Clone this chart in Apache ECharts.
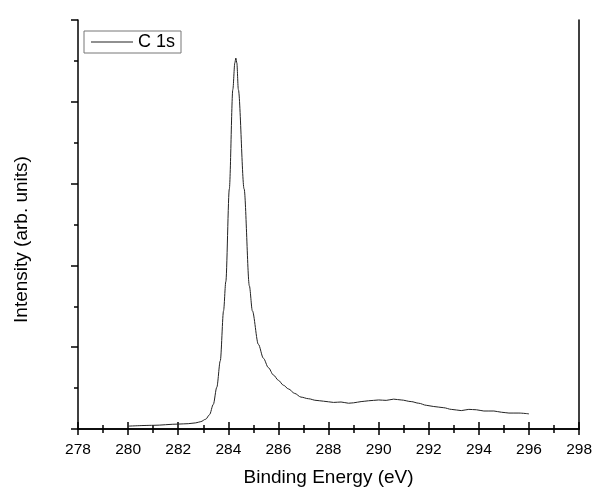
<!DOCTYPE html>
<html>
<head>
<meta charset="utf-8">
<script src="https://cdn.jsdelivr.net/npm/echarts@6/dist/echarts.min.js"></script>
<style>
  html, body { margin: 0; padding: 0; background: #fff; }
  #chart { width: 595px; height: 492px; }
</style>
</head>
<body>
<div id="chart"></div>
<script>
// C 1s spectrum
const energy = [280.0, 281.0, 282.0, 282.4, 282.7, 282.9, 283.1, 283.25, 283.4, 283.54, 283.68, 283.81, 283.9, 284.04, 284.18, 284.26, 284.3,
  284.34, 284.4, 284.63, 284.84, 284.96, 285.2, 285.4, 285.6, 285.8, 286.0, 286.2, 286.4, 286.65, 286.9, 287.2, 287.5, 287.8,
  288.2, 288.5, 288.8, 289.0, 289.3, 289.6, 290.0, 290.3, 290.6, 290.9, 291.3, 291.6, 291.9, 292.2, 292.6, 292.9, 293.3,
  293.6, 293.9, 294.2, 294.6, 294.9, 295.2, 295.6, 296.0]
const intensity = [0.7, 0.9, 1.2, 1.3, 1.5, 1.8, 2.4, 3.5, 6.0, 10.2, 16.7, 28.9, 36.0, 58.7, 83.0, 89.5, 90.7,
  89.5, 83.0, 58.7, 35.0, 28.9, 20.7, 17.3, 15.0, 13.2, 11.9, 10.7, 9.8, 8.7, 7.8, 7.4, 7.0, 6.8,
  6.5, 6.6, 6.3, 6.4, 6.7, 6.9, 7.1, 7.0, 7.3, 7.1, 6.7, 6.3, 5.8, 5.5, 5.2, 4.8, 4.5,
  4.8, 4.7, 4.4, 4.4, 4.1, 3.9, 3.9, 3.7]
const seriesName = 'C 1s'

const chart = echarts.init(document.getElementById('chart'))
const font = 'Liberation Sans, Arial, sans-serif'
const axisLine = { lineStyle: { color: '#000', width: 1.5 } }

chart.setOption({
  animation: false,
  textStyle: { fontFamily: font },
  grid: { left: 78, right: 12, top: 20, bottom: 60 },
  legend: {
    left: 84,
    top: 31,
    icon: 'rect',
    itemWidth: 42,
    itemHeight: 1,
    itemGap: 6,
    padding: [2, 6, 2, 7],
    borderColor: '#777',
    borderWidth: 1,
    textStyle: { color: '#000', fontSize: 18, fontFamily: font },
    data: [seriesName]
  },
  xAxis: [
    {
      type: 'value',
      min: 278,
      max: 298,
      interval: 2,
      name: 'Binding Energy (eV)',
      nameLocation: 'middle',
      nameGap: 39,
      nameTextStyle: { color: '#000', fontSize: 19, fontFamily: font },
      axisLine: axisLine,
      axisTick: { show: true, inside: false, length: 6, lineStyle: { color: '#000', width: 1.5 } },
      minorTick: { show: true, splitNumber: 2, length: 4, lineStyle: { color: '#000', width: 1.5 } },
      axisLabel: { color: '#000', fontSize: 15.5, margin: 13, fontFamily: font },
      splitLine: { show: false }
    },
    {
      type: 'value',
      position: 'top',
      min: 278,
      max: 298,
      interval: 2,
      axisLine: axisLine,
      axisTick: { show: true, inside: false, length: 7, lineStyle: { color: '#000', width: 1.5 } },
      minorTick: { show: true, splitNumber: 2, length: 4, lineStyle: { color: '#000', width: 1.5 } },
      axisLabel: { show: false },
      splitLine: { show: false }
    }
  ],
  yAxis: [
    {
      type: 'value',
      min: 0,
      max: 100,
      interval: 20,
      name: 'Intensity (arb. units)',
      nameLocation: 'middle',
      nameGap: 47,
      nameTextStyle: { color: '#000', fontSize: 19, fontFamily: font, padding: [0, 30, 0, 0] },
      axisLine: axisLine,
      axisTick: { show: true, inside: false, length: 7, lineStyle: { color: '#000', width: 1.5 } },
      minorTick: { show: true, splitNumber: 2, length: 4, lineStyle: { color: '#000', width: 1.5 } },
      axisLabel: { show: false },
      splitLine: { show: false }
    },
    {
      type: 'value',
      position: 'right',
      min: 0,
      max: 100,
      axisLine: axisLine,
      axisTick: { show: false },
      axisLabel: { show: false },
      splitLine: { show: false }
    }
  ],
  series: [
    {
      name: seriesName,
      type: 'line',
      xAxisIndex: 0,
      yAxisIndex: 0,
      symbol: 'none',
      smooth: 0.3,
      smoothMonotone: 'x',
      color: '#222',
      lineStyle: { color: '#222', width: 1 },
      data: energy.map((e, i) => [e, intensity[i]])
    }
  ]
})
</script>
</body>
</html>
